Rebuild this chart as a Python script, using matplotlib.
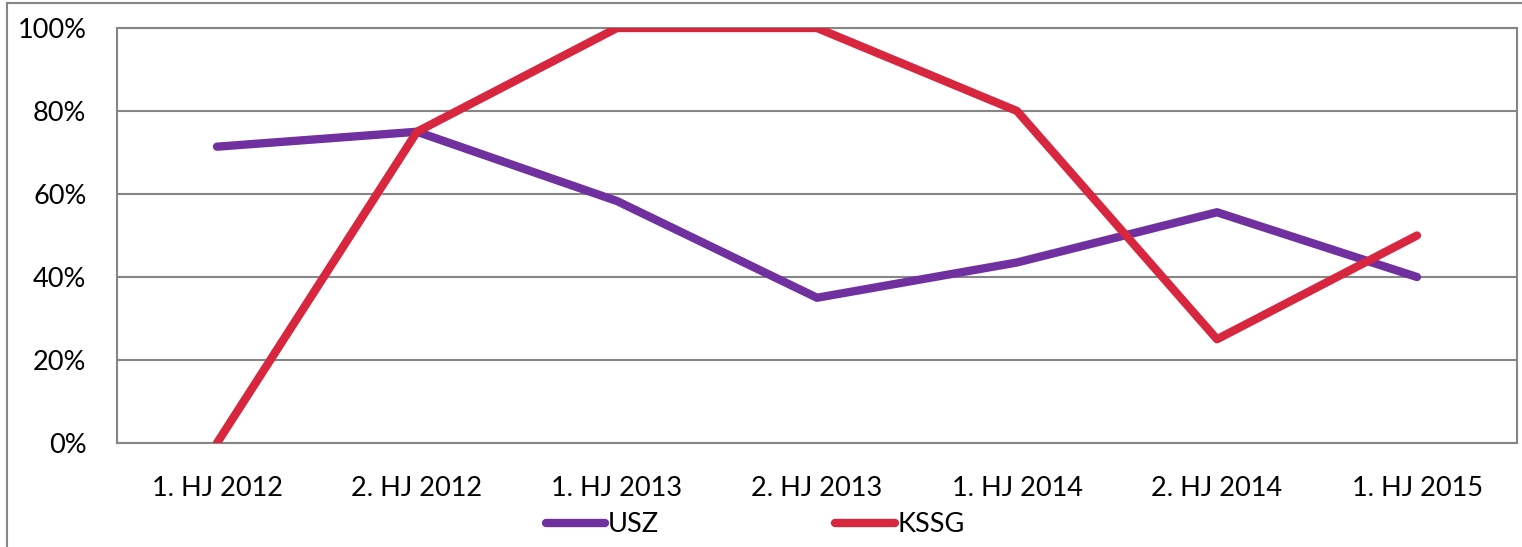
import matplotlib
matplotlib.use("Agg")
import matplotlib.pyplot as plt
from matplotlib.patches import Rectangle
from matplotlib.ticker import PercentFormatter

plt.rcParams['font.family'] = ['Lato', 'DejaVu Sans']

categories = ['1. HJ 2012', '2. HJ 2012', '1. HJ 2013', '2. HJ 2013',
              '1. HJ 2014', '2. HJ 2014', '1. HJ 2015']
usz = [71.4, 75.0, 58.3, 35.0, 43.5, 55.6, 40.0]
kssg = [0, 75, 100, 100, 80, 25, 50]
yticks = [0, 20, 40, 60, 80, 100]

GREY = '#868686'

fig = plt.figure(figsize=(15.22, 5.47), dpi=100)
ax = fig.add_axes([117 / 1522, 1 - 443 / 547, 1400 / 1522, 415 / 547])

x = list(range(len(categories)))
ax.plot(x, usz, color='#7030A0', lw=6, solid_capstyle='round', label='USZ', zorder=3)
ax.plot(x, kssg, color='#D9263F', lw=6, solid_capstyle='round', label='KSSG', zorder=3)

ax.set_xlim(-0.5, len(categories) - 0.5)
ax.set_ylim(0, 100)
ax.set_yticks(yticks)
ax.yaxis.set_major_formatter(PercentFormatter(decimals=0))
ax.set_xticks(x)
ax.set_xticklabels(categories)
ax.tick_params(length=0, labelsize=19.5)
ax.tick_params(axis='y', pad=22)
ax.tick_params(axis='x', pad=24)
ax.grid(axis='y', color=GREY, lw=1.5)
for s in ax.spines.values():
    s.set_color(GREY)
    s.set_linewidth(1.5)
ax.set_axisbelow(True)

fig.legend(loc='center', bbox_to_anchor=(755 / 1522, 1 - 525 / 547), ncol=2,
           frameon=False, fontsize=19.5, handlelength=2.2, handletextpad=0.1,
           columnspacing=6.5)

# outer chart border (runs off the right and bottom edge)
fig.patches.append(Rectangle((7, -100), 1600, 644, transform=None, fill=False,
                             edgecolor=GREY, lw=1.5))

fig.savefig('out.png', dpi=100)
